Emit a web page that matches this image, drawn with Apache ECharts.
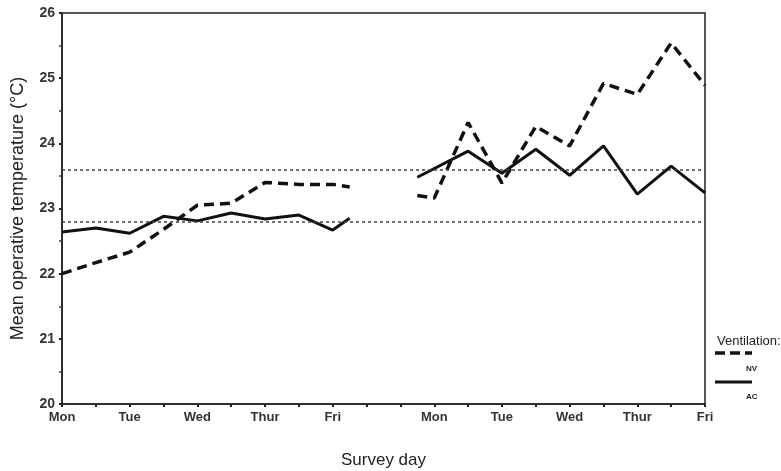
<!DOCTYPE html>
<html>
<head>
<meta charset="utf-8">
<script src="https://cdn.jsdelivr.net/npm/echarts@6/dist/echarts.min.js"></script>
<style>html,body{margin:0;padding:0;background:#fff;}#c{width:781px;height:471px;}</style>
</head>
<body>
<div id="c"></div>
<script>
// Tick labels along the x-axis (half-day positions 0..19)
var xTickLabels = ['Mon','','Tue','','Wed','','Thur','','Fri','','','Mon','','Tue','','Wed','','Thur','','Fri'];

// Week 1
var wk1X = [0, 1, 2, 3, 4, 5, 6, 7, 8, 8.5];
var nvWk1 = [22.0, 22.17, 22.33, 22.68, 23.05, 23.08, 23.4, 23.37, 23.37, 23.33];
var acWk1 = [22.64, 22.7, 22.62, 22.88, 22.81, 22.93, 22.84, 22.9, 22.67, 22.85];

// Week 2
var nvWk2X = [10.5, 11, 12, 13, 14, 15, 16, 17, 18, 19];
var nvWk2 = [23.2, 23.16, 24.32, 23.39, 24.26, 23.96, 24.92, 24.75, 25.54, 24.89];
var acWk2X = [10.5, 12, 13, 14, 15, 16, 17, 18, 19];
var acWk2 = [23.48, 23.88, 23.54, 23.91, 23.51, 23.96, 23.22, 23.65, 23.24];

// Comfort reference lines
var refLines = [23.6, 22.8];

function pairs(xs, ys) { return xs.map(function (x, i) { return [x, ys[i]]; }); }

var FONT = '"Liberation Sans", Arial, sans-serif';
var dashStyle = { color: '#111', width: 3.5, type: [10, 6] };
var solidStyle = { color: '#111', width: 3, type: 'solid' };

var chart = echarts.init(document.getElementById('c'), null, { renderer: 'canvas' });
chart.setOption({
  backgroundColor: '#fff',
  animation: false,
  textStyle: { fontFamily: FONT },
  title: {
    text: 'Ventilation:',
    left: 712, top: 330,
    textStyle: { fontFamily: FONT, fontSize: 13, fontWeight: 'normal', color: '#222' }
  },
  graphic: [
    { type: 'line', shape: { x1: 715, y1: 353, x2: 752, y2: 353 }, style: { stroke: '#111', lineWidth: 3.5, lineDash: [10, 5] } },
    { type: 'text', left: 746, top: 365, style: { text: 'NV', fontFamily: FONT, fontSize: 8, fontWeight: 'bold', fill: '#222' } },
    { type: 'line', shape: { x1: 715, y1: 382, x2: 752, y2: 382 }, style: { stroke: '#111', lineWidth: 3 } },
    { type: 'text', left: 746, top: 393, style: { text: 'AC', fontFamily: FONT, fontSize: 8, fontWeight: 'bold', fill: '#222' } }
  ],
  grid: {
    left: 62, right: 76, top: 13, bottom: 67,
    outerBoundsMode: 'none', containLabel: false,
    show: true, borderColor: '#222', borderWidth: 1.5, backgroundColor: 'transparent'
  },
  xAxis: {
    type: 'value',
    min: 0, max: 19, interval: 1,
    name: 'Survey day',
    nameLocation: 'middle',
    nameGap: 48,
    nameTextStyle: { fontFamily: FONT, fontSize: 17, color: '#222' },
    axisLine: { show: true, lineStyle: { color: '#222', width: 1.5 } },
    axisTick: { show: true, length: 3, lineStyle: { color: '#222', width: 2 } },
    splitLine: { show: false },
    axisLabel: {
      margin: 7,
      fontFamily: FONT, fontSize: 13, fontWeight: 'bold', color: '#333',
      formatter: function (v) { return xTickLabels[Math.round(v)] || ''; }
    }
  },
  yAxis: {
    type: 'value',
    min: 20, max: 26, interval: 1,
    name: 'Mean operative temperature (°C)',
    nameLocation: 'middle',
    nameGap: 35,
    nameTextStyle: { fontFamily: FONT, fontSize: 18, color: '#222' },
    axisLine: { show: true, lineStyle: { color: '#222', width: 1.5 } },
    axisTick: { show: true, length: 3, lineStyle: { color: '#222', width: 2 } },
    minorTick: { show: true, splitNumber: 2, length: 3, lineStyle: { color: '#444', width: 1.5 } },
    splitLine: { show: false },
    axisLabel: { margin: 7, fontFamily: FONT, fontSize: 14, fontWeight: 'bold', color: '#333' }
  },
  series: [
    {
      name: 'NV', type: 'line', data: pairs(wk1X, nvWk1),
      symbol: 'none', lineStyle: dashStyle, itemStyle: { color: '#111' }, z: 3,
      markLine: {
        silent: true, symbol: 'none',
        label: { show: false },
        lineStyle: { color: '#444', width: 1.5, type: [3, 3] },
        data: refLines.map(function (v) { return { yAxis: v }; })
      }
    },
    { name: 'NV', type: 'line', data: pairs(nvWk2X, nvWk2), symbol: 'none', lineStyle: dashStyle, itemStyle: { color: '#111' }, z: 3 },
    { name: 'AC', type: 'line', data: pairs(wk1X, acWk1), symbol: 'none', lineStyle: solidStyle, itemStyle: { color: '#111' }, z: 3 },
    { name: 'AC', type: 'line', data: pairs(acWk2X, acWk2), symbol: 'none', lineStyle: solidStyle, itemStyle: { color: '#111' }, z: 3 }
  ]
});
</script>
</body>
</html>
